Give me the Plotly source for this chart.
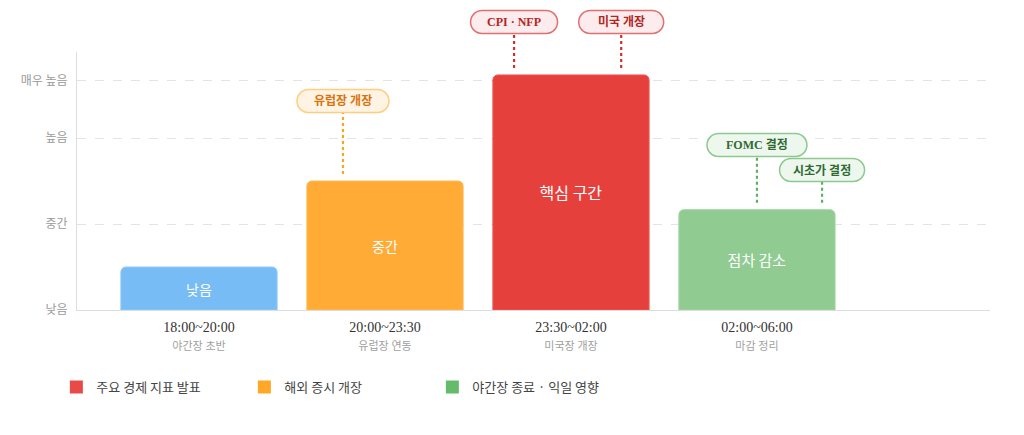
import plotly.graph_objects as go

# ---------------- data ----------------
slots = ["18:00~20:00", "20:00~23:30", "23:30~02:00", "02:00~06:00"]
slot_notes = ["야간장 초반", "유럽장 연동", "미국장 개장", "마감 정리"]
volatility = [15, 45, 82, 35]
bar_labels = ["낮음", "중간", "핵심 구간", "점차 감소"]

level_values = [0, 30, 60, 80]
level_labels = ["낮음", "중간", "높음", "매우 높음"]

event_slot = [1, 2, 2, 3, 3]
event_text = ["유럽장 개장", "CPI · NFP", "미국 개장", "FOMC 결정", "시초가 결정"]
event_group = ["orange", "red", "red", "green", "green"]

legend_names = ["주요 경제 지표 발표", "해외 증시 개장", "야간장 종료 · 익일 영향"]

# ---------------- styling / layout ----------------
OFF = 8                      # default page body margin of the browser
W, H = 1024 - OFF, 435 - OFF
ML, MR, MT, MB = 77 - OFF, 34, 52 - OFF, 125
XR = [-0.656, 4.253]
YR = [0, 90]
plot_w = W - ML - MR
plot_h = H - MT - MB
px_x = (XR[1] - XR[0]) / plot_w      # x data units per pixel
px_p = 1.0 / plot_h                   # paper units per pixel

bar_colors = ["#78bcf5", "#ffab36", "#e6403d", "#90cb92"]
bar_lines = ["#8ecbf8", "#ffbb55", "#ee5a57", "#a3d6a4"]
bar_font_sizes = [14, 14, 16, 15]

styles = {
    "orange": dict(line="#f5a623", border="#ffcc80", bg="#fff4e3", text="#d9730d"),
    "red": dict(line="#d32f2f", border="#e07070", bg="#fdecee", text="#b3261e"),
    "green": dict(line="#5cae60", border="#8cc98e", bg="#eef7ee", text="#2e6b31"),
}
# callout placement (x offset from bar centre, pill centre in screen px from top, pill width px)
event_dx = [-0.226, -0.306, 0.27, 0.0, 0.35]
event_py = [101, 22, 22, 145, 170]
event_w = [92, 87, 85, 100, 85]
PILL_H = 23
GAP = 7

legend_colors = ["#e84a48", "#ffa726", "#66bb6a"]

FONT_KR = "Noto Sans CJK KR"
FONT_SERIF = "Liberation Serif, Noto Sans CJK KR"

fig = go.Figure()

fig.add_trace(go.Bar(
    x=list(range(len(slots))),
    y=volatility,
    width=0.84,
    marker=dict(color=bar_colors, line=dict(color=bar_lines, width=1), cornerradius=5),
    text=bar_labels,
    textposition="inside",
    insidetextanchor="middle",
    textfont=dict(color="white", size=bar_font_sizes, family=FONT_KR),
    showlegend=False,
    hoverinfo="skip",
))

for name, col in zip(legend_names, legend_colors):
    fig.add_trace(go.Scatter(x=[None], y=[None], name=name, mode="markers",
                             marker=dict(color=col, symbol="square", size=13, line=dict(width=0))))


def to_paper_y(py):
    return (MT + OFF + plot_h - py) * px_p


def pill_path(cx, cy_px, w_px, h_px):
    # rounded (pill) rectangle in x-data / paper-y coordinates
    r = h_px / 2.0
    k = 0.5523
    xl = cx - (w_px / 2 - r) * px_x
    xr = cx + (w_px / 2 - r) * px_x
    rx = r * px_x
    yt = to_paper_y(cy_px - r)
    yb = to_paper_y(cy_px + r)
    ym = to_paper_y(cy_px)
    ry = r * px_p
    p = f"M{xl},{yt} L{xr},{yt} "
    p += f"C{xr + k*rx},{yt} {xr + rx},{ym + k*ry} {xr + rx},{ym} "
    p += f"C{xr + rx},{ym - k*ry} {xr + k*rx},{yb} {xr},{yb} "
    p += f"L{xl},{yb} "
    p += f"C{xl - k*rx},{yb} {xl - rx},{ym - k*ry} {xl - rx},{ym} "
    p += f"C{xl - rx},{ym + k*ry} {xl - k*rx},{yt} {xl},{yt} Z"
    return p


for s, t, g, dx, py, w in zip(event_slot, event_text, event_group, event_dx, event_py, event_w):
    st = styles[g]
    cx = s + dx
    bar_top_paper = volatility[s] / YR[1] + GAP * px_p
    fig.add_shape(type="line", xref="x", yref="paper",
                  x0=cx, x1=cx, y0=bar_top_paper, y1=to_paper_y(py + PILL_H / 2),
                  line=dict(color=st["line"], width=2.2, dash="dot"), layer="below")
    fig.add_shape(type="path", xref="x", yref="paper", path=pill_path(cx, py, w, PILL_H),
                  fillcolor=st["bg"], line=dict(color=st["border"], width=1.5), layer="above")
    fig.add_annotation(x=cx, y=to_paper_y(py), xref="x", yref="paper", text=f"<b>{t}</b>",
                       showarrow=False, yanchor="middle",
                       font=dict(family=FONT_SERIF, size=12, color=st["text"]))

ticktext = [f"{a}<br><span style='font-size:11px;color:#a0a0a0'>{b}</span>"
            for a, b in zip(slots, slot_notes)]

fig.update_layout(
    width=W, height=H,
    margin=dict(l=ML, r=MR, t=MT, b=MB, autoexpand=False),
    paper_bgcolor="white", plot_bgcolor="white",
    font=dict(family=FONT_KR, color="#444"),
    xaxis=dict(range=XR, tickmode="array", tickvals=list(range(len(slots))), ticktext=ticktext,
               showgrid=False, zeroline=False, showline=True, linecolor="#dddddd", linewidth=1,
               ticks="", ticklabelstandoff=4, automargin=False,
               tickfont=dict(family=FONT_SERIF, size=14, color="#333")),
    yaxis=dict(range=YR, tickmode="array", tickvals=level_values, ticktext=level_labels,
               showgrid=True, gridcolor="#e4e4e4", griddash="dash", gridwidth=1,
               zeroline=False, showline=True, linecolor="#dddddd", linewidth=1,
               ticks="", ticklabelstandoff=6, automargin=False,
               tickfont=dict(family=FONT_KR, size=12, color="#9a9a9a")),
    legend=dict(orientation="h", x=-0.0226, xanchor="left", y=-0.2405, yanchor="top",
                font=dict(family=FONT_KR, size=13, color="#444"),
                entrywidth=143, entrywidthmode="pixels", itemsizing="trace"),
    bargap=0.1,
)

fig.write_html("out.html")
